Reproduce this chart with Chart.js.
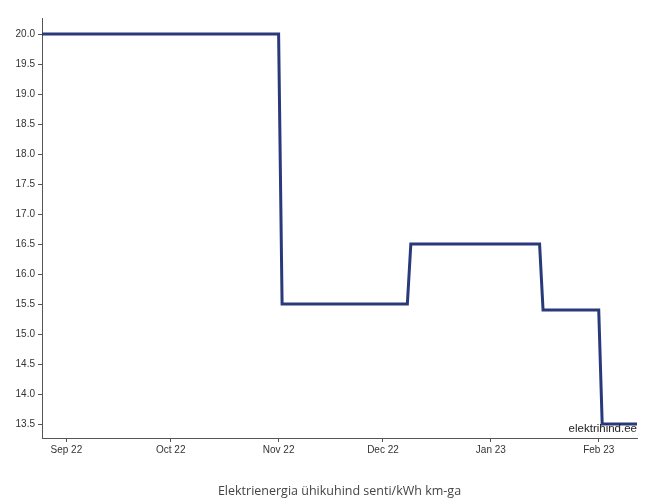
<!DOCTYPE html>
<html>
<head>
<meta charset="utf-8">
<script src="https://cdn.jsdelivr.net/npm/chart.js@4/dist/chart.umd.min.js"></script>
<style>
html, body { margin: 0; padding: 0; background: #fff; }
#wrap { width: 650px; height: 504px; }
</style>
</head>
<body>
<div id="wrap"><canvas id="chart"></canvas></div>
<script>
// price change points (line is drawn straight between them)
const dates = ['2022-08-25', '2022-11-01', '2022-11-02', '2022-12-08', '2022-12-09',
  '2023-01-15', '2023-01-16', '2023-02-01', '2023-02-02', '2023-02-12'];
const prices = [20.0, 20.0, 15.5, 15.5, 16.5, 16.5, 15.4, 15.4, 13.5, 13.5];

const xTickDates = ['2022-09-01', '2022-10-01', '2022-11-01', '2022-12-01', '2023-01-01', '2023-02-01'];
const xTickLabels = ['Sep 22', 'Oct 22', 'Nov 22', 'Dec 22', 'Jan 23', 'Feb 23'];
const yTicks = [13.5, 14.0, 14.5, 15.0, 15.5, 16.0, 16.5, 17.0, 17.5, 18.0, 18.5, 19.0, 19.5, 20.0];

const toMs = d => Date.parse(d + 'T00:00:00Z');
const xTickValues = xTickDates.map(toMs);

const watermark = {
  id: 'watermark',
  afterDatasetsDraw(chart) {
    const ctx = chart.ctx;
    const a = chart.chartArea;
    ctx.save();
    ctx.font = '11.5px "Liberation Sans", Arial, sans-serif';
    ctx.fillStyle = '#222';
    ctx.textAlign = 'right';
    ctx.textBaseline = 'alphabetic';
    ctx.fillText('elektrihind.ee', a.right, a.bottom - 6);
    ctx.restore();
  }
};

new Chart(document.getElementById('chart'), {
  type: 'line',
  data: {
    datasets: [{
      data: dates.map((d, i) => ({ x: toMs(d), y: prices[i] })),
      borderColor: '#283a7a',
      borderWidth: 3,
      pointRadius: 0,
      tension: 0,
      fill: false
    }]
  },
  options: {
    responsive: true,
    maintainAspectRatio: false,
    animation: false,
    layout: { padding: { top: 18, right: 13, left: 0, bottom: 0 } },
    plugins: {
      legend: { display: false },
      tooltip: { enabled: false }
    },
    scales: {
      x: {
        type: 'linear',
        min: toMs('2022-08-25'),
        max: toMs('2023-02-12'),
        afterBuildTicks: s => { s.ticks = xTickValues.map(v => ({ value: v })); },
        afterFit: s => { s.height = 66; },
        ticks: {
          autoSkip: false,
          maxRotation: 0,
          padding: 2,
          color: '#333',
          font: { family: '"Liberation Sans", Arial, sans-serif', size: 10 },
          callback: v => xTickLabels[xTickValues.indexOf(v)]
        },
        grid: { drawOnChartArea: false, drawTicks: true, tickLength: 4, color: '#555' },
        border: { display: true, color: '#555', width: 1 },
        title: {
          display: true,
          text: 'Elektrienergia ühikuhind senti/kWh km-ga',
          color: '#444',
          font: { family: '"Open Sans", sans-serif', size: 12.5 },
          padding: { top: 0, bottom: 5 }
        }
      },
      y: {
        min: 13.267,
        max: 20.267,
        afterBuildTicks: s => { s.ticks = yTicks.map(v => ({ value: v })); },
        afterFit: s => { s.width = 42; },
        ticks: {
          padding: 3,
          color: '#333',
          font: { family: '"Liberation Sans", Arial, sans-serif', size: 10 },
          callback: v => v.toFixed(1)
        },
        grid: { drawOnChartArea: false, drawTicks: true, tickLength: 4, color: '#555' },
        border: { display: true, color: '#555', width: 1 }
      }
    }
  },
  plugins: [watermark]
});
</script>
</body>
</html>
